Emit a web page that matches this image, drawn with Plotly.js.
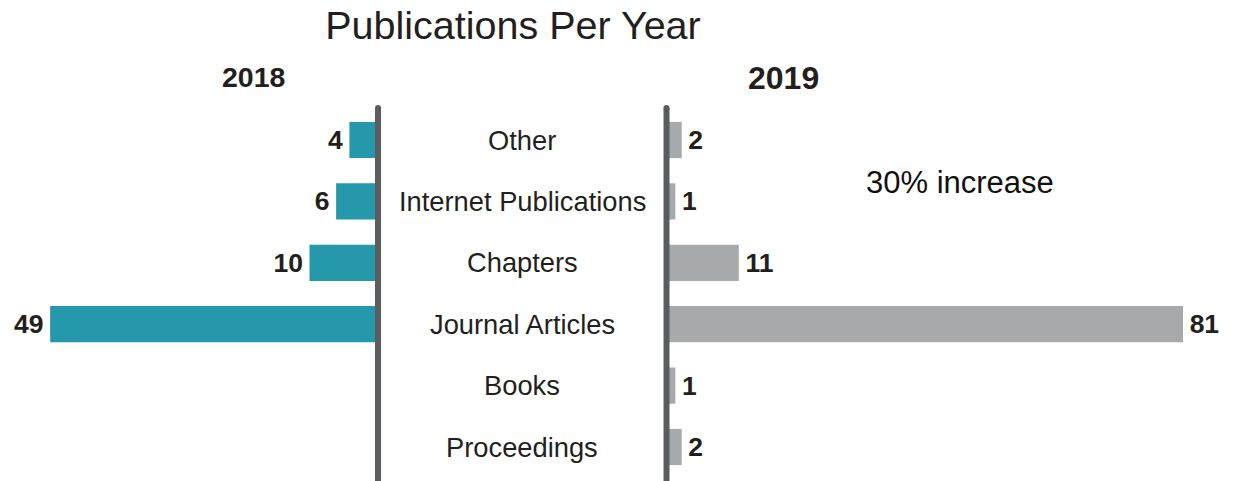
<!DOCTYPE html>
<html>
<head>
<meta charset="utf-8">
<script src="https://cdn.plot.ly/plotly-3.0.1.min.js"></script>
<style>html,body{margin:0;padding:0;background:#fff;}#chart{width:1238px;height:481px;}</style>
</head>
<body>
<div id="chart"></div>
<script>
// Data
var categories = ["Proceedings", "Books", "Journal Articles", "Chapters", "Internet Publications", "Other"];
var values2018 = [null, null, 49, 10, 6, 4];
var values2019 = [2, 1, 81, 11, 1, 2];
var yearLabels = ["2018", "2019"];
var chartTitle = "Publications Per Year";
var noteText = "30% increase";

var W = 1238, H = 481;
var FONT = "Liberation Sans, Arial, Helvetica, sans-serif";
var TXT = "#231F20";
var TEAL = "#2698AB";
var GREY = "#A7AAAD";
var AXC = "#5B5C5E";

// pixel calibration
var leftZero = 376, leftPxPerUnit = 6.65;
var rightZero = 669, rightPxPerUnit = 514 / 81;
var catTop = 140, catStep = 61.4;

var yTopVal = categories.length - 1;
var yPixBottom = catTop + catStep * yTopVal;
var yRange = [(yPixBottom - H) / catStep, yPixBottom / catStep];

var PADSP = '<span style="font-size:13px">\u00A0</span>';

var traceL = {
  type: "bar", orientation: "h",
  y: categories, x: values2018,
  xaxis: "x", yaxis: "y",
  marker: {color: TEAL},
  width: 0.59,
  text: values2018.map(function(v){return v === null ? "" : String(v) + PADSP;}),
  textposition: "outside",
  constraintext: "none",
  cliponaxis: false,
  textfont: {family: FONT, size: 26.5, color: TXT, weight: 700},
  hoverinfo: "x+y"
};
var traceR = {
  type: "bar", orientation: "h",
  y: categories, x: values2019,
  xaxis: "x2", yaxis: "y",
  marker: {color: GREY},
  width: 0.59,
  text: values2019.map(function(v){return PADSP + String(v);}),
  textposition: "outside",
  constraintext: "none",
  cliponaxis: false,
  textfont: {family: FONT, size: 26.5, color: TXT, weight: 700},
  hoverinfo: "x+y"
};

var annotations = categories.map(function(c){
  return {
    xref: "paper", yref: "y", x: 522 / W, y: c,
    text: c, showarrow: false, xanchor: "center", yanchor: "middle",
    font: {family: FONT, size: 27.3, color: TXT}
  };
});
annotations.push({
  xref: "paper", yref: "paper", x: 253 / W, y: 1 - 77 / H,
  text: yearLabels[0], showarrow: false, xanchor: "center", yanchor: "middle",
  font: {family: FONT, size: 28.5, color: TXT, weight: 700}
});
annotations.push({
  xref: "paper", yref: "paper", x: 783 / W, y: 1 - 78 / H,
  text: yearLabels[1], showarrow: false, xanchor: "center", yanchor: "middle",
  font: {family: FONT, size: 32, color: TXT, weight: 700}
});
annotations.push({
  xref: "paper", yref: "paper", x: 960 / W, y: 1 - 182 / H,
  text: noteText, showarrow: false, xanchor: "center", yanchor: "middle",
  font: {family: FONT, size: 31, color: "#111111"}
});

function vline(px){
  return {type: "line", xref: "paper", yref: "paper",
    x0: px / W, x1: px / W, y0: -0.05, y1: 1 - 108 / H,
    line: {color: AXC, width: 6}};
}
function cap(px){
  return {type: "circle", xref: "paper", yref: "paper",
    x0: (px - 3) / W, x1: (px + 3) / W, y0: 1 - 111 / H, y1: 1 - 105 / H,
    fillcolor: AXC, line: {width: 0}};
}

var layout = {
  width: W, height: H,
  margin: {l: 0, r: 0, t: 0, b: 0, pad: 0},
  paper_bgcolor: "#ffffff", plot_bgcolor: "rgba(0,0,0,0)",
  showlegend: false,
  title: {
    text: chartTitle, x: 513 / W, xanchor: "center", xref: "paper",
    y: 1 - 25 / H, yref: "container", yanchor: "middle",
    font: {family: FONT, size: 39.5, color: TXT}
  },
  xaxis: {
    domain: [0, leftZero / W], range: [leftZero / leftPxPerUnit, 0],
    showgrid: false, zeroline: false, showticklabels: false, showline: false, ticks: "", fixedrange: true
  },
  xaxis2: {
    domain: [rightZero / W, 1], range: [0, (W - rightZero) / rightPxPerUnit],
    showgrid: false, zeroline: false, showticklabels: false, showline: false, ticks: "", fixedrange: true
  },
  yaxis: {
    type: "category", categoryorder: "array", categoryarray: categories,
    range: yRange, domain: [0, 1], anchor: "x",
    showgrid: false, zeroline: false, showticklabels: false, showline: false, ticks: "", fixedrange: true
  },
  annotations: annotations,
  shapes: [vline(378), vline(666.5), cap(378), cap(666.5)],
  font: {family: FONT, color: TXT}
};

Plotly.newPlot("chart", [traceL, traceR], layout, {displayModeBar: false, staticPlot: true});
</script>
</body>
</html>
